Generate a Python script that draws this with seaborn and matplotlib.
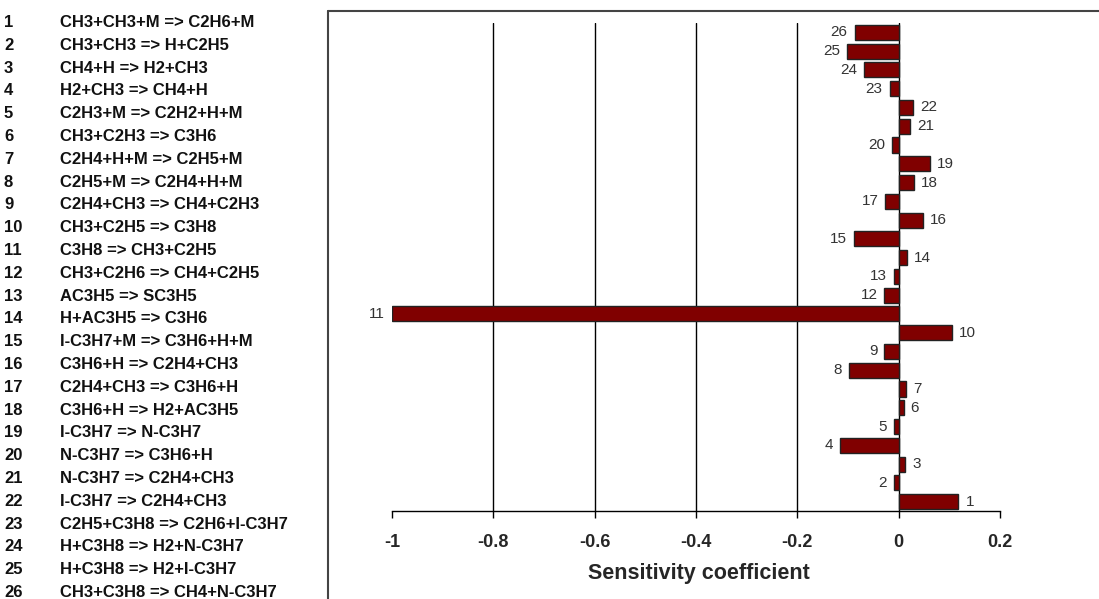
import numpy as np
import pandas as pd
import seaborn as sns
import matplotlib.pyplot as plt
from matplotlib.lines import Line2D

# dados
reaction_ids = list(range(1, 27))
reactions = [
    'CH3+CH3+M => C2H6+M',
    'CH3+CH3 => H+C2H5',
    'CH4+H => H2+CH3',
    'H2+CH3 => CH4+H',
    'C2H3+M => C2H2+H+M',
    'CH3+C2H3 => C3H6',
    'C2H4+H+M => C2H5+M',
    'C2H5+M => C2H4+H+M',
    'C2H4+CH3 => CH4+C2H3',
    'CH3+C2H5 => C3H8',
    'C3H8 => CH3+C2H5',
    'CH3+C2H6 => CH4+C2H5',
    'AC3H5 => SC3H5',
    'H+AC3H5 => C3H6',
    'I-C3H7+M => C3H6+H+M',
    'C3H6+H => C2H4+CH3',
    'C2H4+CH3 => C3H6+H',
    'C3H6+H => H2+AC3H5',
    'I-C3H7 => N-C3H7',
    'N-C3H7 => C3H6+H',
    'N-C3H7 => C2H4+CH3',
    'I-C3H7 => C2H4+CH3',
    'C2H5+C3H8 => C2H6+I-C3H7',
    'H+C3H8 => H2+N-C3H7',
    'H+C3H8 => H2+I-C3H7',
    'CH3+C3H8 => CH4+N-C3H7',
]
sensitivity = [0.118, -0.010, 0.013, -0.116, -0.010, 0.010, 0.015, -0.099,
               -0.028, 0.106, -1.0, -0.028, -0.010, 0.017, -0.088, 0.048,
               -0.026, 0.030, 0.061, -0.013, 0.022, 0.028, -0.018, -0.069,
               -0.101, -0.087]
xticks = [-1, -0.8, -0.6, -0.4, -0.2, 0, 0.2]
xtick_labels = ['-1', '-0.8', '-0.6', '-0.4', '-0.2', '0', '0.2']

df = pd.DataFrame({'id': [str(i) for i in reaction_ids], 'sens': sensitivity})
order = [str(i) for i in reversed(reaction_ids)]  # 26 em cima

sns.set_style('white')
plt.rcParams['font.family'] = ['Liberation Sans', 'DejaVu Sans']

W, H = 1099, 599
fig = plt.figure(figsize=(W / 100, H / 100), dpi=100)

# moldura (linha esquerda e de cima)
fig.add_artist(Line2D([328 / W, 328 / W], [0, 1 - 11 / H], color='#444444', lw=1.5))
fig.add_artist(Line2D([328 / W, 1], [1 - 11 / H, 1 - 11 / H], color='#444444', lw=1.5))

ax = fig.add_axes([392 / W, (H - 511) / H, 608 / W, 488 / H])

for x in [-0.8, -0.6, -0.4, -0.2, 0]:
    ax.axvline(x, color='black', lw=1, zorder=0)

sns.barplot(data=df, x='sens', y='id', order=order, orient='h',
            color='#800000', edgecolor='#222222', linewidth=1,
            width=0.8, saturation=1, ax=ax, zorder=2)

bars = ax.containers[0]
labs = [order[int(round(b.get_y() + b.get_height() / 2))] for b in bars]
ax.bar_label(bars, labels=labs, padding=5, fontsize=11, color='#333333')

ax.set_xlim(-1, 0.2)
ax.set_ylim(25.5, -0.5)
ax.set_xticks(xticks)
ax.set_xticklabels(xtick_labels, fontsize=13, fontweight='bold')
ax.set_yticks([])
ax.set_ylabel('')
ax.set_xlabel('Sensitivity coefficient', fontsize=15.5, fontweight='bold')
ax.xaxis.set_label_coords(0.505, -0.106)
ax.tick_params(axis='x', direction='out', length=5, width=1, color='black',
               pad=11.5, bottom=True)
for s in ['left', 'right', 'top']:
    ax.spines[s].set_visible(False)
ax.spines['bottom'].set_color('black')
ax.spines['bottom'].set_linewidth(1)
ax.patch.set_alpha(0)

# lista das reacoes a esquerda
for i, (n, r) in enumerate(zip(reaction_ids, reactions)):
    yb = 1 - (27 + 22.8 * i) / H
    fig.text(4 / W, yb, str(n), fontsize=12, fontweight='bold', va='baseline',
             ha='left', color='#111111')
    fig.text(60 / W, yb, r, fontsize=12, fontweight='bold', va='baseline',
             ha='left', color='#111111')

fig.savefig('out.png', dpi=100)
